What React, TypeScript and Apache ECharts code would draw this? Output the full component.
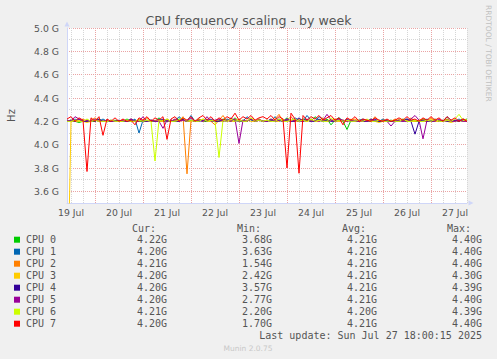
import React, { useEffect, useRef } from "react";
import * as echarts from "echarts";

// Time axis: one point every 2 hours, starting 19 Jul 10:00, ending 27 Jul 18:00
const START_DAY = 19;
const START_HOUR = 10;
const STEP_H = 2;

const cpuNames = ["CPU 0", "CPU 1", "CPU 2", "CPU 3", "CPU 4", "CPU 5", "CPU 6", "CPU 7"];
const cpuColors = ["#00CC00", "#0066B3", "#FF8000", "#FFCC00", "#330099", "#990099", "#CCFF00", "#FF0000"];

// Values in GHz
const cpu0 = [
  4.20, 4.21, 4.20, 4.19, 4.20, 4.21, 4.20, 4.20, 4.22, 4.20,
  4.20, 4.20, 4.21, 4.20, 4.20, 4.22, 4.20, 4.21, 4.20, 4.20,
  4.21, 4.20, 4.20, 4.23, 4.20, 4.21, 4.20, 4.20, 4.22, 4.21,
  4.20, 4.21, 4.20, 4.22, 4.20, 4.20, 4.21, 4.20, 4.20, 4.22,
  4.21, 4.20, 4.23, 4.20, 4.21, 4.20, 4.22, 4.20, 4.21, 4.20,
  4.20, 4.22, 4.20, 4.21, 4.20, 4.23, 4.20, 4.21, 4.20, 4.22,
  4.21, 4.20, 4.24, 4.21, 4.20, 4.22, 4.17, 4.21, 4.23, 4.20,
  4.13, 4.21, 4.20, 4.20, 4.21, 4.20, 4.22, 4.20, 4.20, 4.21,
  4.20, 4.20, 4.21, 4.20, 4.22, 4.20, 4.21, 4.20, 4.20, 4.22,
  4.21, 4.20, 4.20, 4.21, 4.20, 4.22, 4.20, 4.21, 4.20, 4.21, 4.22,
];
const cpu1 = [
  4.21, 4.20, 4.22, 4.20, 4.21, 4.20, 4.20, 4.21, 4.20, 4.22,
  4.20, 4.21, 4.20, 4.20, 4.21, 4.20, 4.20, 4.22, 4.10, 4.21,
  4.20, 4.21, 4.20, 4.22, 4.20, 4.20, 4.21, 4.20, 4.24, 4.21,
  4.20, 4.25, 4.20, 4.21, 4.20, 4.22, 4.20, 4.20, 4.21, 4.20,
  4.22, 4.20, 4.21, 4.20, 4.20, 4.24, 4.21, 4.20, 4.22, 4.20,
  4.21, 4.20, 4.24, 4.20, 4.21, 4.22, 4.20, 4.23, 4.21, 4.20,
  4.25, 4.21, 4.20, 4.24, 4.22, 4.20, 4.21, 4.20, 4.23, 4.20,
  4.21, 4.20, 4.20, 4.21, 4.22, 4.20, 4.20, 4.21, 4.20, 4.22,
  4.20, 4.21, 4.20, 4.20, 4.21, 4.22, 4.20, 4.21, 4.20, 4.20,
  4.22, 4.20, 4.21, 4.20, 4.20, 4.24, 4.21, 4.20, 4.22, 4.20, 4.20,
];
const cpu2 = [
  4.20, 4.21, 4.20, 4.20, 4.22, 4.20, 4.21, 4.23, 4.20, 4.20,
  4.21, 4.20, 4.20, 4.20, 4.21, 4.20, 4.22, 4.20, 4.20, 4.21,
  4.23, 4.20, 4.21, 4.20, 4.20, 4.22, 4.20, 4.21, 4.20, 4.24,
  3.75, 4.21, 4.20, 4.22, 4.20, 4.21, 4.20, 4.17, 4.21, 4.25,
  4.20, 4.21, 4.22, 4.20, 4.21, 4.20, 4.23, 4.20, 4.22, 4.20,
  4.21, 4.20, 4.22, 4.26, 4.20, 4.21, 4.24, 4.20, 4.22, 4.21,
  4.20, 4.22, 4.20, 4.21, 4.23, 4.20, 4.21, 4.22, 4.20, 4.21,
  4.20, 4.21, 4.22, 4.20, 4.20, 4.21, 4.20, 4.24, 4.20, 4.21,
  4.21, 4.20, 4.22, 4.20, 4.21, 4.20, 4.23, 4.20, 4.21, 4.22,
  4.20, 4.23, 4.20, 4.21, 4.20, 4.22, 4.20, 4.21, 4.20, 4.22, 4.21,
];
const cpu3 = [
  2.42, 4.20, 4.20, 4.21, 4.20, 4.19, 4.20, 4.21, 4.20, 4.20,
  4.20, 4.21, 4.20, 4.20, 4.20, 4.21, 4.20, 4.20, 4.22, 4.20,
  4.20, 4.21, 4.20, 4.20, 4.21, 4.20, 4.20, 4.22, 4.20, 4.21,
  4.20, 4.20, 4.21, 4.20, 4.22, 4.20, 4.20, 4.21, 4.20, 4.20,
  4.21, 4.20, 4.20, 4.22, 4.20, 4.21, 4.20, 4.20, 4.21, 4.20,
  4.20, 4.21, 4.20, 4.20, 4.22, 4.20, 4.21, 4.20, 4.20, 4.21,
  4.20, 4.21, 4.20, 4.20, 4.22, 4.20, 4.21, 4.20, 4.20, 4.21,
  4.20, 4.22, 4.20, 4.21, 4.20, 4.20, 4.21, 4.20, 4.19, 4.20,
  4.21, 4.20, 4.20, 4.22, 4.20, 4.21, 4.20, 4.20, 4.21, 4.20,
  4.20, 4.22, 4.20, 4.20, 4.21, 4.20, 4.19, 4.20, 4.21, 4.20, 4.20,
];
const cpu4 = [
  4.20, 4.21, 4.20, 4.22, 4.20, 4.20, 4.21, 4.20, 4.22, 4.20,
  4.21, 4.20, 4.20, 4.21, 4.20, 4.20, 4.22, 4.20, 4.21, 4.20,
  4.20, 4.21, 4.20, 4.20, 4.22, 4.20, 4.21, 4.20, 4.20, 4.22,
  4.20, 4.21, 4.20, 4.20, 4.21, 4.20, 4.22, 4.20, 4.20, 4.21,
  4.20, 4.23, 4.20, 4.21, 4.20, 4.20, 4.22, 4.20, 4.21, 4.20,
  4.20, 4.21, 4.20, 4.22, 4.20, 4.21, 4.20, 4.20, 4.23, 4.20,
  4.21, 4.20, 4.20, 4.22, 4.20, 4.21, 4.20, 4.20, 4.21, 4.20,
  4.22, 4.20, 4.20, 4.21, 4.20, 4.20, 4.21, 4.22, 4.20, 4.20,
  4.21, 4.20, 4.20, 4.21, 4.20, 4.22, 4.20, 4.09, 4.20, 4.21,
  4.20, 4.20, 4.22, 4.20, 4.21, 4.20, 4.20, 4.21, 4.20, 4.22, 4.20,
];
const cpu5 = [
  4.21, 4.20, 4.24, 4.22, 4.20, 4.21, 4.20, 4.22, 4.20, 4.20,
  4.21, 4.20, 4.20, 4.20, 4.21, 4.20, 4.22, 4.20, 4.20, 4.24,
  4.20, 4.21, 4.20, 4.20, 4.14, 4.21, 4.20, 4.22, 4.20, 4.21,
  4.20, 4.23, 4.20, 4.21, 4.20, 4.24, 4.20, 4.21, 4.22, 4.20,
  4.21, 4.20, 4.22, 4.01, 4.21, 4.20, 4.22, 4.20, 4.21, 4.20,
  4.20, 4.22, 4.20, 4.21, 4.20, 4.22, 4.20, 4.21, 4.20, 4.20,
  4.22, 4.20, 4.21, 4.20, 4.21, 4.26, 4.21, 4.20, 4.22, 4.21,
  4.20, 4.21, 4.20, 4.20, 4.21, 4.20, 4.22, 4.20, 4.21, 4.20,
  4.20, 4.16, 4.20, 4.21, 4.20, 4.20, 4.22, 4.25, 4.21, 4.05,
  4.21, 4.20, 4.20, 4.22, 4.20, 4.21, 4.20, 4.20, 4.21, 4.20, 4.20,
];
const cpu6 = [
  4.20, 4.20, 4.21, 4.20, 4.20, 4.22, 4.20, 4.21, 4.20, 4.20,
  4.20, 4.21, 4.20, 4.20, 4.20, 4.21, 4.20, 4.20, 4.21, 4.20,
  4.21, 4.20, 3.86, 4.21, 4.20, 4.22, 4.20, 4.20, 4.21, 4.23,
  4.20, 4.21, 4.20, 4.20, 4.22, 4.20, 4.21, 4.20, 3.89, 4.21,
  4.20, 4.22, 4.20, 4.21, 4.20, 4.20, 4.23, 4.20, 4.21, 4.20,
  4.21, 4.20, 4.20, 4.22, 4.20, 4.20, 4.21, 4.22, 4.20, 4.21,
  4.20, 4.22, 4.20, 4.21, 4.20, 4.20, 4.23, 4.20, 4.21, 4.20,
  4.21, 4.20, 4.20, 4.21, 4.20, 4.22, 4.20, 4.20, 4.21, 4.20,
  4.20, 4.21, 4.20, 4.20, 4.22, 4.20, 4.20, 4.21, 4.20, 4.20,
  4.21, 4.20, 4.22, 4.20, 4.20, 4.21, 4.20, 4.22, 4.26, 4.21, 4.21,
];
const cpu7 = [
  4.22, 4.24, 4.20, 4.23, 4.21, 3.77, 4.23, 4.20, 4.24, 4.08,
  4.22, 4.20, 4.23, 4.20, 4.22, 4.20, 4.21, 4.17, 4.23, 4.21,
  4.24, 4.20, 4.23, 4.21, 4.24, 4.045, 4.22, 4.24, 4.20, 4.23,
  4.21, 4.24, 4.20, 4.23, 4.25, 4.21, 4.24, 4.20, 4.23, 4.21,
  4.24, 4.22, 4.27, 4.21, 4.24, 4.22, 4.25, 4.21, 4.23, 4.24,
  4.22, 4.25, 4.21, 4.24, 4.22, 3.80, 4.27, 4.22, 3.755, 4.25,
  4.21, 4.24, 4.22, 4.25, 4.21, 4.23, 4.25, 4.21, 4.23, 4.17,
  4.23, 4.21, 4.24, 4.20, 4.22, 4.21, 4.20, 4.23, 4.21, 4.20,
  4.22, 4.20, 4.21, 4.23, 4.21, 4.24, 4.21, 4.22, 4.20, 4.23,
  4.21, 4.24, 4.21, 4.23, 4.20, 4.24, 4.21, 4.23, 4.20, 4.22, 4.20,
];
const cpuSeries = [cpu0, cpu1, cpu2, cpu3, cpu4, cpu5, cpu6, cpu7];

// Legend statistics
const curVals = ["4.22G", "4.20G", "4.21G", "4.20G", "4.20G", "4.20G", "4.21G", "4.20G"];
const minVals = ["3.68G", "3.63G", "1.54G", "2.42G", "3.57G", "2.77G", "2.20G", "1.70G"];
const avgVals = ["4.21G", "4.21G", "4.21G", "4.21G", "4.21G", "4.21G", "4.20G", "4.21G"];
const maxVals = ["4.40G", "4.40G", "4.40G", "4.30G", "4.39G", "4.40G", "4.39G", "4.40G"];
const statHeaders = ["Cur:", "Min:", "Avg:", "Max:"];

const Y_MIN = 3.5;
const Y_MAX = 5.0;
const Y_STEP = 0.1;

const categories = cpu0.map((_, i) => {
  const h = START_HOUR + STEP_H * i;
  const day = START_DAY + Math.floor(h / 24);
  return `${day} Jul ${String(h % 24).padStart(2, "0")}:00`;
});

const FONT = "'DejaVu Sans', sans-serif";
const MONO = "'DejaVu Sans Mono', monospace";
const TXT = "#555555";
const GRID_GRAY = "#d6d6d6";
const GRID_RED = "#eaa4a4";
const AXIS = "#cfd6f8";

export default function App() {
  const ref = useRef<HTMLDivElement>(null);

  useEffect(() => {
    if (!ref.current) return;
    const chart = echarts.init(ref.current, null, { renderer: "svg" });

    const statCols = [curVals, minVals, avgVals, maxVals];
    const colRight = [167, 272, 377, 482];
    const headerLeft = [132, 237, 342, 447];
    const rowTop = 239.7;
    const rowStep = 12;

    const graphics: any[] = [];
    statHeaders.forEach((h, c) => {
      graphics.push({
        type: "text",
        x: headerLeft[c],
        y: 228.5,
        style: { text: h, font: `10px ${MONO}`, fill: TXT, align: "left", verticalAlign: "middle" },
      });
    });
    statCols.forEach((col, c) => {
      col.forEach((v, r) => {
        graphics.push({
          type: "text",
          x: colRight[c],
          y: rowTop + r * rowStep,
          style: { text: v, font: `10px ${MONO}`, fill: TXT, align: "right", verticalAlign: "middle" },
        });
      });
    });
    graphics.push({
      type: "text",
      x: 482,
      y: 335.5,
      style: {
        text: "Last update: Sun Jul 27 18:00:15 2025",
        font: `10px ${MONO}`,
        fill: TXT,
        align: "right",
        verticalAlign: "middle",
      },
    });
    graphics.push({
      type: "text",
      x: 248,
      y: 348.5,
      style: { text: "Munin 2.0.75", font: `7.5px ${FONT}`, fill: "#c8c8c8", align: "center", verticalAlign: "middle" },
    });
    graphics.push({
      type: "text",
      x: 488,
      y: 5,
      rotation: -Math.PI / 2,
      style: {
        text: "RRDTOOL / TOBI OETIKER",
        font: `7.5px ${FONT}`,
        fill: "#c0c0c0",
        align: "left",
        verticalAlign: "middle",
      },
    });

    chart.setOption({
      animation: false,
      backgroundColor: "#f0f0f0",
      title: {
        text: "CPU frequency scaling - by week",
        left: "center",
        top: 9,
        textStyle: { fontFamily: FONT, fontSize: 12.6, fontWeight: "normal", color: TXT },
      },
      grid: {
        left: 67,
        top: 28,
        width: 400,
        height: 175,
        show: true,
        backgroundColor: "#ffffff",
        borderWidth: 0,
        containLabel: false,
        outerBoundsMode: "none",
      },
      legend: {
        orient: "vertical",
        left: 14,
        top: 233.7,
        padding: 0,
        itemWidth: 6,
        itemHeight: 6,
        itemGap: 0,
        icon: "rect",
        selectedMode: false,
        data: cpuNames,
        textStyle: { fontFamily: MONO, fontSize: 10, color: TXT, lineHeight: 12, padding: [0, 0, 0, 1] },
      },
      xAxis: {
        type: "category",
        data: categories,
        boundaryGap: false,
        axisLine: {
          show: true,
          lineStyle: { color: AXIS, width: 1 },
          symbol: ["none", "triangle"],
          symbolSize: [5, 5],
          symbolOffset: [0, 4],
        },
        axisTick: { show: false },
        axisLabel: {
          interval: (i: number) => (i - 1) % 12 === 0,
          formatter: (v: string) => v.split(" ").slice(0, 2).join(" "),
          fontFamily: FONT,
          fontSize: 9.3,
          color: TXT,
          margin: 5,
        },
        splitLine: {
          show: true,
          interval: (i: number) => (i - 1) % 3 === 0,
          lineStyle: { color: [GRID_GRAY, GRID_GRAY, GRID_RED, GRID_GRAY], width: 1, type: [1, 1] },
        },
      },
      yAxis: {
        type: "value",
        min: Y_MIN,
        max: Y_MAX,
        interval: Y_STEP,
        name: "Hz",
        nameLocation: "middle",
        nameGap: 51,
        nameTextStyle: { fontFamily: FONT, fontSize: 10, color: TXT },
        axisLine: {
          show: true,
          lineStyle: { color: AXIS, width: 1 },
          symbol: ["none", "triangle"],
          symbolSize: [5, 5],
          symbolOffset: [0, 4],
        },
        axisTick: { show: false },
        axisLabel: {
          formatter: (v: number) => (Math.round(v * 10) % 2 === 0 ? `${v.toFixed(1)} G` : ""),
          fontFamily: FONT,
          fontSize: 9.3,
          color: TXT,
          margin: 8,
        },
        splitLine: {
          show: true,
          lineStyle: { color: [GRID_GRAY, GRID_RED], width: 1, type: [1, 1] },
        },
      },
      series: cpuSeries.map((d, k) => ({
        name: cpuNames[k],
        type: "line",
        data: d,
        symbol: "none",
        showSymbol: false,
        color: cpuColors[k],
        lineStyle: { width: 1, color: cpuColors[k] },
        emphasis: { disabled: true },
        clip: true,
      })),
      graphic: graphics,
    });

    return () => chart.dispose();
  }, []);

  return (
    <div
      ref={ref}
      style={{ position: "fixed", left: 0, top: 0, width: 497, height: 359 }}
    />
  );
}
